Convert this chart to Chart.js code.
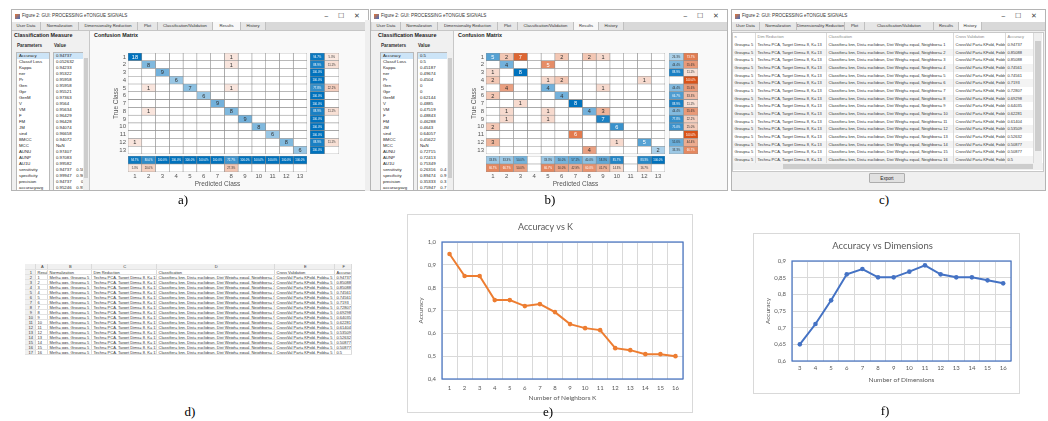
<!DOCTYPE html>
<html lang="en">
<head>
<meta charset="UTF-8">
<title>GUI processing eTongue signals - results</title>
<script src="https://cdn.jsdelivr.net/npm/chart.js"></script>
<style>
  body { margin:0; width:1048px; height:421px; background:#fff; position:relative; overflow:hidden;
         font-family:"Liberation Sans", Arial, sans-serif; color:#222; }
  canvas { position:absolute; }
  .win { position:absolute; background:#f0f0f0; border:1px solid #b4b4b4; box-sizing:border-box; overflow:hidden; }
  .titlebar { position:absolute; left:0; right:0; top:0; height:12px; background:#fff; font-size:4.6px; line-height:12px; }
  .titlebar .icon { position:absolute; left:3px; top:3.5px; width:5px; height:5px; background:linear-gradient(135deg,#e8742e,#3d6fc4); }
  .titlebar .ttl { position:absolute; left:10px; color:#333; }
  .titlebar .btn { position:absolute; font-size:6.5px; color:#444; }
  .tabs { position:absolute; left:0; right:0; top:12px; height:8px; background:#d9d9d9; border-bottom:1px solid #c6c6c6; }
  .tab { position:absolute; top:0; height:8px; border-right:1px solid #c0c0c0; font-size:4.2px; line-height:8px;
         text-align:center; color:#333; box-sizing:border-box; background:#e6e6e6; white-space:nowrap; overflow:hidden; }
  .tab.sel { background:#f8f8f8; }
  .sect { position:absolute; font-size:5.4px; font-weight:bold; line-height:6px; color:#222; white-space:nowrap; }
  .colhdr { position:absolute; font-size:4.6px; font-weight:bold; line-height:6px; color:#333; }
  .pane { position:absolute; top:21px; bottom:0; background:#f9f9f9; border-left:1px solid #c8c8c8; }
  .list { position:absolute; background:#fff; border:1px solid #b9b9b9; box-sizing:border-box; overflow:hidden; }
  .list div { height:6px; line-height:6px; font-size:4.3px; padding-left:2px; white-space:pre; color:#222; }
  .list div.sel { background:#cce4f7; }
  .vscroll { position:absolute; background:#efefef; }
  .vscroll .thumb { position:absolute; left:1px; right:1px; background:#cdcdcd; }
  .grid { position:absolute; background:#fff; overflow:hidden; }
  .row { position:absolute; left:0; white-space:nowrap; }
  .cell { position:absolute; top:0; bottom:0; border-right:1px solid #dadada; box-sizing:border-box;
          font-size:4px; padding-left:1.5px; overflow:hidden; white-space:nowrap; color:#333; }
  .btnx { position:absolute; border:1px solid #adadad; background:#e1e1e1; font-size:4.6px; text-align:center; box-sizing:border-box; border-radius:1px; }
  .lbl { position:absolute; font-family:"Liberation Serif", "DejaVu Serif", serif; font-size:13px; color:#000;
         transform:translate(-50%,-50%); white-space:nowrap; }
  .frame { position:absolute; border:1px solid #d9d9d9; box-sizing:border-box; background:#fff; }
</style>
</head>
<body>
<div id="gui"></div>

<div class="frame" style="left:407px;top:214px;width:286px;height:199px"></div>
<div class="frame" style="left:753px;top:233px;width:267px;height:161px"></div>

<canvas id="cmA" width="200" height="113" style="left:108px;top:47px"></canvas>
<canvas id="rowA" width="31" height="113" style="left:309px;top:47px"></canvas>
<canvas id="colA" width="200" height="36" style="left:108px;top:153px"></canvas>
<canvas id="cmB" width="200" height="113" style="left:466px;top:47px"></canvas>
<canvas id="rowB" width="31" height="113" style="left:668px;top:47px"></canvas>
<canvas id="colB" width="200" height="36" style="left:466px;top:153px"></canvas>
<canvas id="chartK" width="284" height="197" style="left:408px;top:215px"></canvas>
<canvas id="chartDims" width="265" height="159" style="left:754px;top:234px"></canvas>

<div class="lbl" style="left:183px;top:200px">a)</div>
<div class="lbl" style="left:550px;top:200px">b)</div>
<div class="lbl" style="left:884px;top:200px">c)</div>
<div class="lbl" style="left:190px;top:412px">d)</div>
<div class="lbl" style="left:548px;top:412px">e)</div>
<div class="lbl" style="left:885px;top:411px">f)</div>

<script>
  // ---- data ----
  const classLabels = ['1','2','3','4','5','6','7','8','9','10','11','12','13'];

  // confusion matrices (rows = true class, columns = predicted class)
  const confusionA = [
    [18,0,0,0,0,0,0,1,0,0,0,0,0],
    [0,8,0,0,0,0,0,1,0,0,0,0,0],
    [0,0,9,0,0,0,0,0,0,0,0,0,0],
    [0,0,0,6,0,0,0,0,0,0,0,0,0],
    [0,1,0,0,7,0,0,1,0,0,0,0,0],
    [0,0,0,0,0,6,0,0,0,0,0,0,0],
    [0,0,0,0,0,0,9,0,0,0,0,0,0],
    [0,1,0,0,0,0,0,8,0,0,0,0,0],
    [0,0,0,0,0,0,0,0,9,0,0,0,0],
    [0,0,0,0,0,0,0,0,0,8,0,0,0],
    [0,0,0,0,0,0,0,0,0,0,6,0,0],
    [1,0,0,0,0,0,0,0,0,0,0,8,0],
    [0,0,0,0,0,0,0,0,0,0,0,0,6]
  ];
  const confusionB = [
    [5,2,7,0,0,2,0,2,1,0,0,0,0],
    [0,4,0,0,5,0,0,0,0,0,0,0,0],
    [1,0,8,0,0,0,0,0,0,0,0,0,0],
    [2,0,0,0,1,2,0,0,0,0,0,1,0],
    [0,4,0,0,4,0,0,0,1,0,0,0,0],
    [2,0,0,0,0,4,0,0,0,0,0,0,0],
    [0,0,1,0,0,0,8,0,0,0,0,0,0],
    [0,1,0,0,1,0,0,4,3,0,0,0,0],
    [0,1,0,0,1,0,0,0,7,0,0,0,0],
    [2,0,0,0,0,0,0,0,0,6,0,0,0],
    [0,0,0,0,0,0,6,0,0,0,0,0,0],
    [3,0,0,0,0,0,0,0,0,1,0,5,0],
    [0,0,0,0,0,0,0,4,0,0,0,0,2]
  ];

  const paramNames = ['Accuracy','Classif Loss','Kappa','ner','Pr','Gen','Gpr','GenM','V','VM','F','FM','JM',
                      'sind','BMCC','MCC','AUNU','AUNP','AU1U','sensitivity','specificity','precision','accuracyavg'];
  const paramValuesA = ['0.94737','0.052632','0.94233','0.95322','0.95958','0.95958','0.95521','0.97363','0.9564',
                        '0.95634','0.96429','0.96428','0.94074','0.96658','0.94072','NaN','0.97407','0.97083','0.99582',
                        '0.94737    0.58','0.99947    0.90','0.94737        0','0.95246    0.93'];
  const paramValuesB = ['0.5','0.5','0.45187','0.49674','0.4504','0','0','0.62144','0.4885','0.47519','0.48843',
                        '0.46288','0.4643','0.64057','0.45622','NaN','0.72715','0.72413','0.75349',
                        '0.26316    0.4','0.89474    0.9','0.35333    0.3','0.75947    0.7'];

  // accuracy vs number of neighbours K (also listed in the history table)
  const neighborsK = ['1','2','3','4','5','6','7','8','9','10','11','12','13','14','15','16'];
  const accuracyVsK = [0.94737,0.85088,0.85088,0.74561,0.74561,0.7193,0.72807,0.69298,0.64035,0.62281,
                       0.61404,0.53509,0.52632,0.50877,0.50877,0.5];
  const yTicksK = { min: 0.4, max: 1.0, step: 0.1 };

  // accuracy vs number of dimensions
  const dimensions = ['3','4','5','6','7','8','9','10','11','12','13','14','15','16'];
  const accuracyVsDims = [0.65,0.711,0.782,0.86,0.876,0.851,0.851,0.868,0.887,0.86,0.851,0.851,0.842,0.833];
  const yTicksDims = { min: 0.6, max: 0.9, step: 0.05 };

  const tabNames = ['User Data','Normalization','Dimensionality Reduction','Plot','Classification/Validation','Results','History'];
  const windowTitle = 'Figure 2: GUI: PROCESSING eTONGUE SIGNALS';
  const historyHeaders = ['n','Dim Reduction','Classification','Cross Validation','Accuracy'];
  const sheetHeaders = ['Result','Normalization','Dim Reduction','Classification','Cross Validation','Accuracy'];

  // ---- GUI screenshots (html) ----
  function windowHtml(w) {
    let h = `<div class="win" style="left:${w.x}px;top:${w.y}px;width:${w.w}px;height:${w.h}px">`;
    h += `<div class="titlebar"><span class="icon"></span><span class="ttl">${windowTitle}</span>` +
         `<span class="btn" style="right:40px">&#8211;</span><span class="btn" style="right:24px">&#9744;</span>` +
         `<span class="btn" style="right:8px">&#10005;</span></div>`;
    h += '<div class="tabs">';
    let x = w.tabX;
    tabNames.forEach((t, i) => {
      h += `<div class="tab${t === w.sel ? ' sel' : ''}" style="left:${x}px;width:${w.tabW[i]}px">${t}</div>`;
      x += w.tabW[i];
    });
    return h + '</div>' + w.body + '</div>';
  }

  function listHtml(items, x, width) {
    return `<div class="list" style="left:${x}px;top:42px;width:${width}px;height:140px">` +
      items.map((s, i) => `<div${i === 0 ? ' class="sel"' : ''}>${s}</div>`).join('') + '</div>';
  }

  function resultsBody(values, dx) {
    return `<div class="pane" style="left:${77 + dx}px;right:0"></div>` +
      `<div class="sect" style="left:${2 + dx}px;top:22px">Classification Measure</div>` +
      `<div class="sect" style="left:${82 + dx}px;top:22px">Confusion Matrix</div>` +
      `<div class="colhdr" style="left:${5 + dx}px;top:33px">Parameters</div>` +
      `<div class="colhdr" style="left:${42 + dx}px;top:33px">Value</div>` +
      listHtml(paramNames, 4 + dx, 34) + listHtml(values, 41 + dx, 31) +
      `<div class="vscroll" style="left:${71 + dx}px;top:42px;width:6px;height:140px"><div class="thumb" style="top:6px;height:120px"></div></div>`;
  }

  function historyBody() {
    const widths = [23, 71, 127, 52, 28];
    let h = '<div class="grid" style="left:0;top:22px;width:310px;height:138px;border:1px solid #c8c8c8">';
    const rowHtml = (cells, top, hgt, bg, color) => {
      let r = `<div class="row" style="top:${top}px;height:${hgt}px;width:301px;background:${bg};line-height:${hgt}px">`;
      let x = 0;
      cells.forEach((c, i) => { r += `<div class="cell" style="left:${x}px;width:${widths[i]}px;color:${color}">${c}</div>`; x += widths[i]; });
      return r + '</div>';
    };
    h += rowHtml(historyHeaders, 0, 8, '#fff', '#888');
    accuracyVsK.forEach((acc, i) => {
      h += rowHtml(['Groups= 5', 'Techn= PCA, Target Dims= 8, K= 13',
        'Classifier= knn, Dist= euclidean, Dist Weigh= equal, Neighbors= ' + neighborsK[i],
        'CrossVal Part= KFold, Folds= 5', String(acc)], 8 + i * 7.67, 7.67, i % 2 ? '#f3f3f3' : '#fff', '#333');
    });
    h += '<div class="vscroll" style="left:301px;top:0;width:8px;height:130px"><div class="thumb" style="top:8px;height:110px"></div></div>';
    h += '<div class="vscroll" style="left:0;top:130px;width:310px;height:7px"><div class="thumb" style="left:50px;right:auto;width:250px;top:1px;height:5px"></div></div>';
    h += '</div>';
    h += '<div class="btnx" style="left:137px;top:163px;width:36px;height:10px;line-height:9px">Export</div>';
    return h;
  }

  function sheetHtml() {
    const widths = [11, 12, 44, 65, 118, 60, 17];
    let h = '<div class="grid" style="left:25px;top:264px;width:327px;height:91px">';
    const rowHtml = (cells, top, hgt, head) => {
      let r = `<div class="row" style="top:${top}px;height:${hgt}px;width:327px;line-height:${hgt}px;border-bottom:1px solid #e2e2e2;box-sizing:border-box">`;
      let x = 0;
      cells.forEach((c, i) => {
        const bg = (head || i === 0) ? 'background:#f0f0f0;text-align:center;' : '';
        r += `<div class="cell" style="left:${x}px;width:${widths[i]}px;${bg}">${c}</div>`;
        x += widths[i];
      });
      return r + '</div>';
    };
    h += rowHtml(['', 'A', 'B', 'C', 'D', 'E', 'F'], 0, 6, true);
    h += rowHtml(['1'].concat(sheetHeaders), 6, 5, false);
    accuracyVsK.forEach((acc, i) => {
      h += rowHtml([String(i + 2), neighborsK[i], 'Meth= gqs, Groups= 5', 'Techn= PCA, Target Dims= 8, K= 13',
        'Classifier= knn, Dist= euclidean, Dist Weigh= equal, Neighbors= ' + neighborsK[i],
        'CrossVal Part= KFold, Folds= 5', String(acc).replace('.', ',')], 11 + i * 5, 5, false);
    });
    return h + '</div>';
  }

  document.getElementById('gui').innerHTML =
    windowHtml({ x: 11, y: 9, w: 358, h: 182, tabX: 0, tabW: [29,38,59,20,55,28,25], sel: 'Results', body: resultsBody(paramValuesA, 0) }) +
    '<div class="vscroll" style="left:365px;top:20px;width:5px;height:171px"></div>' +
    windowHtml({ x: 370, y: 9, w: 358, h: 182, tabX: 1, tabW: [29,37,60,20,56,25,25], sel: 'Results', body: resultsBody(paramValuesB, 5) }) +
    windowHtml({ x: 731, y: 9, w: 315, h: 182, tabX: 0, tabW: [28,37,48,20,69,25,23], sel: 'History', body: historyBody() }) +
    sheetHtml();

  // ---- confusion charts ----
  const blue = [0, 114, 189], orange = [217, 83, 25];
  function mix(c, t) {
    return `rgb(${Math.round(255 - (255 - c[0]) * t)},${Math.round(255 - (255 - c[1]) * t)},${Math.round(255 - (255 - c[2]) * t)})`;
  }
  const pct = p => (p * 100).toFixed(1) + '%';

  const cellText = {
    id: 'cellText',
    afterDatasetsDraw(chart) {
      const ctx = chart.ctx;
      chart.data.datasets.forEach((ds, k) => {
        chart.getDatasetMeta(k).data.forEach((el, c) => {
          if (!ds.texts[c]) return;
          const p = el.getCenterPoint();
          ctx.save();
          ctx.font = ds.fontSize + 'px "Liberation Sans", Arial, sans-serif';
          ctx.fillStyle = ds.textColors[c];
          ctx.textAlign = 'center';
          ctx.textBaseline = 'middle';
          ctx.fillText(ds.texts[c], p.x, p.y + 0.3);
          ctx.restore();
        });
      });
    }
  };

  const tickFont = { family: '"Liberation Sans", Arial, sans-serif', size: 6 };
  const titleFont = { family: '"Liberation Sans", Arial, sans-serif', size: 6.5 };
  const noGrid = { display: false, drawTicks: false };

  function cellChart(id, o) {
    const datasets = [];
    for (let k = 0; k < o.nStack; k++) {
      const cells = o.labels.map((_, c) => o.cell(c, k));
      datasets.push({
        data: cells.map(() => 1),
        backgroundColor: cells.map(s => s.text ? mix(s.base, s.t) : '#ffffff'),
        borderColor: '#8e8e8e', borderWidth: 0.6, borderSkipped: false,
        barPercentage: 1, categoryPercentage: 1,
        texts: cells.map(s => s.text || ''),
        textColors: cells.map(s => s.t > 0.62 ? '#ffffff' : '#303030'),
        fontSize: o.fontSize
      });
    }
    new Chart(document.getElementById(id), {
      type: 'bar',
      data: { labels: o.labels, datasets },
      options: {
        indexAxis: o.horizontal ? 'y' : 'x',
        responsive: false, animation: false, events: [],
        layout: { padding: o.padding },
        plugins: { legend: { display: false }, tooltip: { enabled: false } },
        scales: o.scales
      },
      plugins: [cellText]
    });
  }

  function confusionCharts(m, ids) {
    const n = m.length;
    const max = Math.max(...m.flat());
    const diag = m.map((r, i) => r[i]);
    const rowTot = m.map(r => r.reduce((a, b) => a + b, 0));
    const colTot = m[0].map((_, j) => m.reduce((a, r) => a + r[j], 0));
    const share = (v, tot, base) => (v > 0 ? { text: pct(v / tot), t: 0.08 + 0.92 * v / tot, base } : {});

    cellChart(ids[0], {
      horizontal: true, labels: classLabels, nStack: n, fontSize: 5.6,
      padding: { left: 0, right: 1, top: 6, bottom: 6 },
      cell: (i, j) => m[i][j] ? { text: String(m[i][j]), t: 0.1 + 0.9 * m[i][j] / max, base: i === j ? blue : orange } : {},
      scales: {
        x: { stacked: true, min: 0, max: n, display: false },
        y: { stacked: true, grid: noGrid, border: { display: false },
             ticks: { font: tickFont, color: '#555', padding: 2, autoSkip: false },
             title: { display: true, text: 'True Class', font: titleFont, color: '#555', padding: { top: 4.1, bottom: 0 } },
             afterFit: s => { s.width = 20; } }
      }
    });
    cellChart(ids[1], {
      horizontal: true, labels: classLabels, nStack: 2, fontSize: 2.8,
      padding: { left: 1, right: 1, top: 6, bottom: 6 },
      cell: (i, k) => k === 0 ? share(diag[i], rowTot[i], blue) : share(rowTot[i] - diag[i], rowTot[i], orange),
      scales: { x: { stacked: true, min: 0, max: 2, display: false }, y: { stacked: true, display: false } }
    });
    cellChart(ids[2], {
      horizontal: false, labels: classLabels, nStack: 2, fontSize: 2.8,
      padding: { left: 20, right: 1, top: 3, bottom: 0 },
      cell: (j, k) => k === 1 ? share(diag[j], colTot[j], blue) : share(colTot[j] - diag[j], colTot[j], orange),
      scales: {
        y: { stacked: true, min: 0, max: 2, display: false },
        x: { stacked: true, grid: noGrid, border: { display: false },
             ticks: { font: tickFont, color: '#555', padding: 0.5, maxRotation: 0, autoSkip: false },
             title: { display: true, text: 'Predicted Class', font: titleFont, color: '#555', padding: { top: 0, bottom: 1.1 } },
             afterFit: s => { s.height = 17; } }
      }
    });
  }

  confusionCharts(confusionA, ['cmA', 'rowA', 'colA']);
  confusionCharts(confusionB, ['cmB', 'rowB', 'colB']);

  // ---- Excel-style line charts ----
  const plotFrame = {
    id: 'plotFrame',
    beforeDatasetsDraw(chart) {
      const a = chart.chartArea, ctx = chart.ctx;
      ctx.save();
      ctx.strokeStyle = '#4472C4';
      ctx.lineWidth = 1.2;
      ctx.strokeRect(a.left, a.top, a.right - a.left, a.bottom - a.top);
      ctx.restore();
    }
  };
  const excelFont = size => ({ family: 'Lato, "Open Sans", sans-serif', size, weight: 'normal' });

  function excelLine(id, o) {
    new Chart(document.getElementById(id), {
      type: 'line',
      data: {
        labels: o.labels,
        datasets: [{ data: o.values, borderColor: o.color, backgroundColor: o.color, borderWidth: 2,
                     pointRadius: 2.3, pointBorderWidth: 0, tension: 0 }]
      },
      options: {
        responsive: false, animation: false, events: [],
        layout: { padding: { left: 0, right: o.padRight, top: 0, bottom: 0 } },
        plugins: {
          legend: { display: false }, tooltip: { enabled: false },
          title: { display: true, text: o.title, color: '#595959', font: excelFont(o.titleSize),
                   padding: { top: o.titleTop, bottom: o.titleBottom } }
        },
        scales: {
          x: { offset: true, grid: { offset: true, color: '#d9d9d9', drawTicks: false }, border: { display: false },
               ticks: { color: '#595959', font: excelFont(6), padding: o.xPad, maxRotation: 0, autoSkip: false },
               title: { display: true, text: o.xTitle, color: '#595959', font: excelFont(6.5), padding: { top: 0, bottom: o.xTitlePad } },
               afterFit: s => { s.height = o.xHeight; } },
          y: { min: o.y.min, max: o.y.max, grid: { color: '#d9d9d9', drawTicks: false }, border: { display: false },
               ticks: { stepSize: o.y.step, color: '#595959', font: excelFont(6), padding: 6,
                        callback: v => String(+v.toFixed(2)).replace('.', ',') + (o.y.step === 0.1 && Math.abs(v - Math.round(v)) < 1e-9 ? ',0' : '') },
               title: { display: true, text: 'Accuracy', color: '#595959', font: excelFont(6.5), padding: { top: o.yTitlePad, bottom: 0 } },
               afterFit: s => { s.width = o.yWidth; } }
        }
      },
      plugins: [plotFrame]
    });
  }

  excelLine('chartK', {
    labels: neighborsK, values: accuracyVsK, color: '#ED7D31', y: yTicksK,
    title: 'Accuracy vs K', titleSize: 9, titleTop: 6.6, titleBottom: 9.6,
    xTitle: 'Number of Neighbors K', xPad: 5.4, xTitlePad: 10.1, xHeight: 33,
    yWidth: 34, yTitlePad: 9.1, padRight: 9
  });
  excelLine('chartDims', {
    labels: dimensions, values: accuracyVsDims, color: '#4472C4', y: yTicksDims,
    title: 'Accuracy vs Dimensions', titleSize: 9.5, titleTop: 6.3, titleBottom: 9.3,
    xTitle: 'Number of Dimensions', xPad: 3.4, xTitlePad: 9.1, xHeight: 32,
    yWidth: 38, yTitlePad: 10.1, padRight: 8
  });
</script>
</body>
</html>
